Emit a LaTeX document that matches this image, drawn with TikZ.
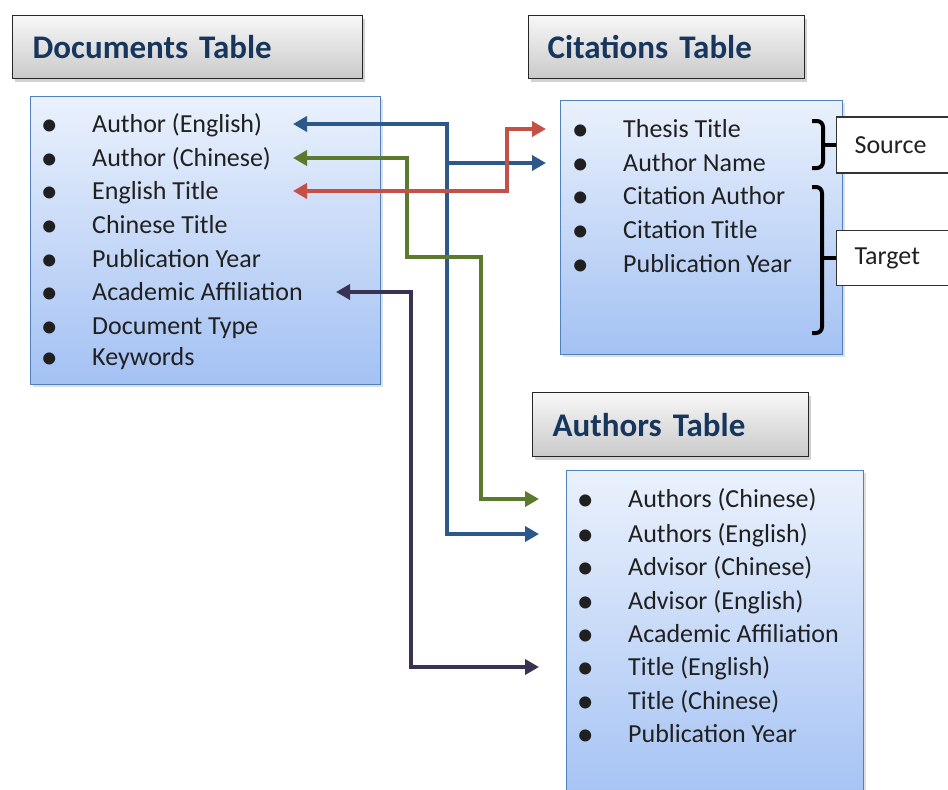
\documentclass[tikz,border=0pt]{standalone}
\usepackage{fontspec}
\setmainfont{Carlito}
\usepackage{xcolor}
\usepackage{tikz}
\usetikzlibrary{calc,arrows.meta,positioning,shadows}
\definecolor{tblNavy}{RGB}{23,54,93}
\definecolor{tblBorder}{RGB}{79,129,189}
\definecolor{tblTop}{RGB}{234,241,252}
\definecolor{tblBottom}{RGB}{163,193,243}
\definecolor{linkBlue}{RGB}{44,89,138}
\definecolor{linkGreen}{RGB}{92,122,46}
\definecolor{linkRed}{RGB}{196,80,72}
\definecolor{linkPurple}{RGB}{58,50,82}
\definecolor{itemInk}{RGB}{32,32,32}

\newcommand{\itm}{\llap{{\fontsize{34}{34}\selectfont\raisebox{-3pt}{\textbullet}}\hskip 34.5pt}}

\begin{document}
\begin{tikzpicture}[x=1pt,y=-1pt,
    headbox/.style={draw=black!85, line width=1.4pt, top color=gray!6, bottom color=gray!42,
        drop shadow={shadow xshift=2pt,shadow yshift=-3pt,opacity=0.35},
        anchor=north west, inner ysep=0pt, align=left, text=tblNavy,
        font=\fontsize{33}{36}\selectfont\bfseries},
    listbox/.style={draw=tblBorder, line width=1pt, top color=tblTop, bottom color=tblBottom,
        drop shadow={shadow xshift=2pt,shadow yshift=-2pt,opacity=0.25}, anchor=north west},
    item/.style={anchor=west, inner sep=0pt, text=itemInk, text height=21pt, text depth=4pt,
        font=\fontsize{26}{30}\selectfont},
    tagbox/.style={draw=black!80, line width=1.2pt, fill=white, anchor=west, inner xsep=18pt,
        text width=94pt, align=left, text=itemInk, font=\fontsize{26}{30}\selectfont},
    bracket/.style={line width=4pt, black, rounded corners=6pt},
    link/.style={line width=4.5pt, {Triangle[length=14pt,width=15pt]}-{Triangle[length=14pt,width=15pt]}},
    onelink/.style={line width=4.5pt, -{Triangle[length=14pt,width=15pt]}}]

    \fill[white] (0,0) rectangle (948,790);
    \useasboundingbox (0,0) rectangle (948,790);

    % documents table
    \node[headbox, minimum width=350pt, minimum height=63pt, inner xsep=20pt, text width=310pt] (docHead) at (12,15) {Documents Table};
    \node[listbox, minimum width=350pt, minimum height=288pt] (docBox) at (30,96) {};
    \node[item] (docAuthEn) at (92,124) {\itm Author (English)};
    \node[item] (docAuthCn) at (92,158) {\itm Author (Chinese)};
    \node[item] (docEnTitle) at (92,191) {\itm English Title};
    \node[item] (docCnTitle) at (92,225) {\itm Chinese Title};
    \node[item] (docPubYear) at (92,259) {\itm Publication Year};
    \node[item] (docAffil) at (92,292) {\itm Academic Affiliation};
    \node[item] (docType) at (92,326) {\itm Document Type};
    \node[item] (docKeys) at (92,357) {\itm Keywords};

    % citations table
    \node[headbox, minimum width=276pt, minimum height=63pt, inner xsep=19pt, text width=238pt] (citHead) at (528,15) {Citations Table};
    \node[listbox, minimum width=282pt, minimum height=254pt] (citBox) at (560,100) {};
    \node[item] (citThesis) at (623,129) {\itm Thesis Title};
    \node[item] (citAuthor) at (623,163) {\itm Author Name};
    \node[item] (citCitAuth) at (623,196) {\itm Citation Author};
    \node[item] (citCitTitle) at (623,230) {\itm Citation Title};
    \node[item] (citPubYear) at (623,264) {\itm Publication Year};

    \node[tagbox, minimum height=56pt] (srcTag) at (836,145) {Source};
    \node[tagbox, minimum height=55pt] (tgtTag) at (836,258) {Target};
    \draw[bracket] (812,121) -- (823,121) -- (823,168) -- (812,168);
    \draw[bracket] (823,145) -- (srcTag.west);
    \draw[bracket] (812,187) -- (822,187) -- (822,333) -- (812,333);
    \draw[bracket] (822,258) -- (tgtTag.west);

    % authors table
    \node[headbox, minimum width=276pt, minimum height=64pt, inner xsep=20pt, text width=236pt] (autHead) at (532,392) {Authors Table};
    \node[listbox, minimum width=297pt, minimum height=340pt] (autBox) at (566,470) {};
    \node[item] (autAuthCn) at (628,499) {\itm Authors (Chinese)};
    \node[item] (autAuthEn) at (628,534) {\itm Authors (English)};
    \node[item] (autAdvCn) at (628,567) {\itm Advisor (Chinese)};
    \node[item] (autAdvEn) at (628,601) {\itm Advisor (English)};
    \node[item] (autAffil) at (628,634) {\itm Academic Affiliation};
    \node[item] (autTitleEn) at (628,667) {\itm Title (English)};
    \node[item] (autTitleCn) at (628,701) {\itm Title (Chinese)};
    \node[item] (autPubYear) at (628,734) {\itm Publication Year};

    % link columns
    \coordinate (docPort) at (293,0);
    \coordinate (affPort) at (336,0);
    \coordinate (citPort) at (546,0);
    \coordinate (autPort) at (539,0);
    \coordinate (blueBus) at (447,0);
    \coordinate (redBus) at (507,0);
    \coordinate (purpleBus) at (411,0);
    \coordinate (greenStepA) at (407,257);
    \coordinate (greenStepB) at (481,257);

    \draw[link, linkBlue] (docPort |- docAuthEn) -- (blueBus |- docAuthEn) -- (blueBus |- autAuthEn) -- (autPort |- autAuthEn);
    \draw[onelink, linkBlue] (blueBus |- citAuthor) -- (citPort |- citAuthor);
    \draw[link, linkGreen] (docPort |- docAuthCn) -| (greenStepA) -- (greenStepB) |- (autPort |- autAuthCn);
    \draw[link, linkPurple] (affPort |- docAffil) -| (purpleBus |- autTitleEn) -- (autPort |- autTitleEn);
    \draw[link, linkRed] (docPort |- docEnTitle) -| (redBus |- citThesis) -- (citPort |- citThesis);
\end{tikzpicture}
\end{document}
